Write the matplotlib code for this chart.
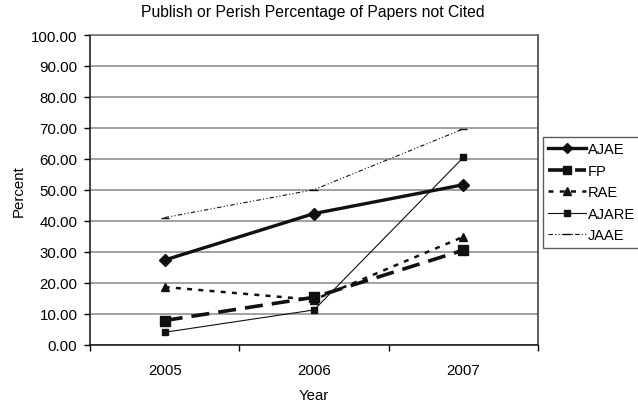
import matplotlib
matplotlib.use("Agg")
import matplotlib.pyplot as plt

plt.rcParams['font.family'] = ['Liberation Sans', 'DejaVu Sans']

years = ["2005", "2006", "2007"]
ajae = [27.4, 42.4, 51.7]
fp = [7.9, 15.4, 30.6]
rae = [18.7, 14.6, 34.9]
ajare = [4.1, 11.3, 60.5]
jaae = [41.1, 50.1, 69.7]

fig = plt.figure(figsize=(6.38, 4.06), dpi=100)
ax = fig.add_axes([90/638, 1-346/406, (538-90)/638, (346-36)/406])

x = list(range(len(years)))
ax.plot(x, ajae, color='#111111', lw=2.4, marker='D', ms=6.5, label='AJAE')
ax.plot(x, fp, color='#111111', lw=2.6, marker='s', ms=7, dashes=(5, 2.5), label='FP')
ax.plot(x, rae, color='#111111', lw=1.8, marker='^', ms=6, dashes=(2, 2.5), label='RAE')
ax.plot(x, ajare, color='#111111', lw=0.8, marker='s', ms=5, label='AJARE')
ax.plot(x, jaae, color='#111111', lw=0.8, marker='_', ms=6, dashes=(4, 2, 1, 2, 1, 2), label='JAAE')

ax.set_xlim(-0.5, 2.5)
ax.set_ylim(0, 100)
ax.set_yticks(range(0, 101, 10))
ax.set_yticklabels([f"{v:.2f}" for v in range(0, 101, 10)], fontsize=10.8)
ax.set_xticks(x)
ax.set_xticklabels(years, fontsize=10.8)
ax.set_xticks([-0.5, 0.5, 1.5, 2.5], minor=True)
ax.tick_params(axis='x', which='major', length=0, pad=13)
ax.tick_params(axis='x', which='minor', length=4, width=1, direction='out')
ax.tick_params(axis='y', length=4, width=1, direction='out', pad=5)
ax.grid(axis='y', color='#888888', lw=1.1)
ax.set_axisbelow(True)
for s in ax.spines.values():
    s.set_color('#111111')
    s.set_linewidth(1.1)
ax.spines['right'].set_color('#333333')
ax.spines['top'].set_color('#666666')

ax.set_xlabel("Year", fontsize=10.8, labelpad=8)
ax.set_ylabel("Percent", fontsize=10.8, labelpad=4)
fig.text(313/638, 1-13/406, "Publish or Perish Percentage of Papers not Cited",
         ha='center', va='center', fontsize=11.3)

leg = fig.legend(loc='upper left', bbox_to_anchor=(543/638, 1-138/406), fontsize=10.5,
                 frameon=True, fancybox=False, edgecolor='#333333', handlelength=2.6,
                 handletextpad=0.1, borderpad=0.35, labelspacing=0.52, borderaxespad=0,
                 markerscale=0.85)
leg.get_frame().set_linewidth(1)

fig.savefig("out.png", dpi=100)
